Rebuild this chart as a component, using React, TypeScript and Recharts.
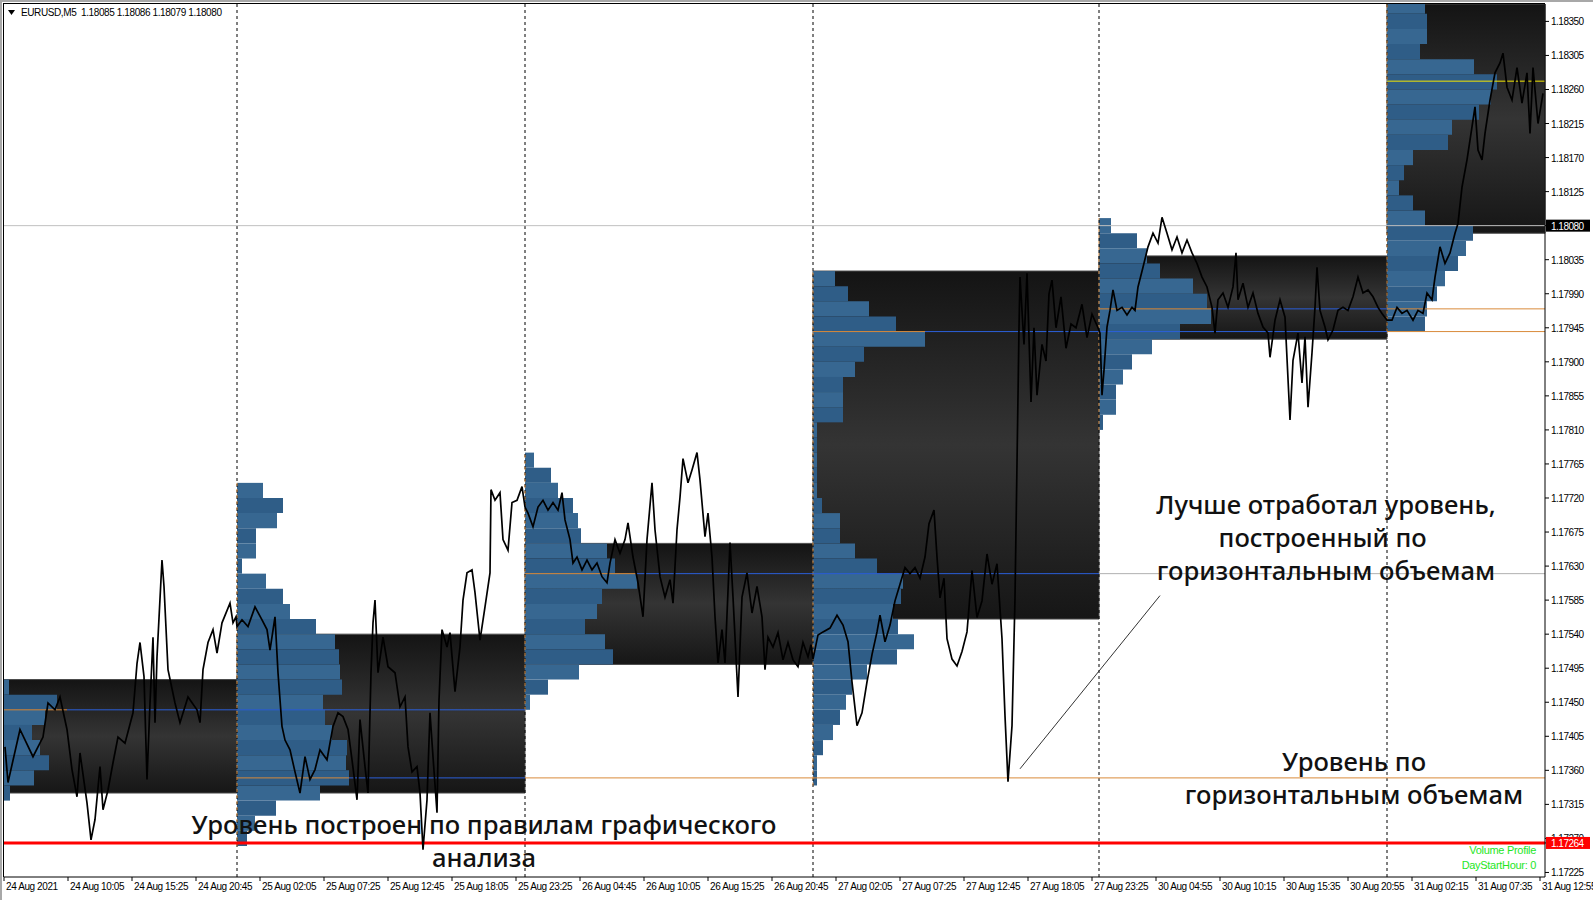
import React from "react";
import { ComposedChart, Line, XAxis, YAxis, ReferenceArea, ReferenceLine } from "recharts";

// x = M5 bar index from the left edge of the window, y = price
const timeLabels = [
  "24 Aug 2021", "24 Aug 10:05", "24 Aug 15:25", "24 Aug 20:45", "25 Aug 02:05",
  "25 Aug 07:25", "25 Aug 12:45", "25 Aug 18:05", "25 Aug 23:25", "26 Aug 04:45",
  "26 Aug 10:05", "26 Aug 15:25", "26 Aug 20:45", "27 Aug 02:05", "27 Aug 07:25",
  "27 Aug 12:45", "27 Aug 18:05", "27 Aug 23:25", "30 Aug 04:55", "30 Aug 10:15",
  "30 Aug 15:35", "30 Aug 20:55", "31 Aug 02:15", "31 Aug 07:35", "31 Aug 12:55",
];
const BARS_PER_LABEL = 64;

const priceTicks = [
  1.1835, 1.18305, 1.1826, 1.18215, 1.1817, 1.18125, 1.1808, 1.18035, 1.1799,
  1.17945, 1.179, 1.17855, 1.1781, 1.17765, 1.1772, 1.17675, 1.1763, 1.17585,
  1.1754, 1.17495, 1.1745, 1.17405, 1.1736, 1.17315, 1.1727, 1.17225,
];
const lastPrice = 1.1808;
const drawnLevel = 1.17264; // red level from chart analysis

const Y_MIN = 1.17219;
const Y_MAX = 1.18373;
const X_MAX = 1541;

// close prices, [bar, price]
const closes: [number, number][] = [
  [1, 1.17391], [4, 1.17344], [16, 1.17414], [29, 1.17378], [39, 1.17404], [44, 1.17449], [51, 1.1744], [56, 1.17457],
  [63, 1.17414], [68, 1.17361], [73, 1.17325], [76, 1.17383], [83, 1.17317], [87, 1.17268], [91, 1.17295], [96, 1.17365],
  [99, 1.17308], [104, 1.17334], [109, 1.1737], [114, 1.17404], [121, 1.17396], [129, 1.17436], [133, 1.17501], [136, 1.17529],
  [140, 1.17484], [143, 1.17348], [146, 1.17449], [149, 1.17536], [151, 1.17423], [153, 1.1751], [158, 1.17638], [160, 1.17603],
  [164, 1.17493], [171, 1.17449], [176, 1.17423], [184, 1.17457], [193, 1.1744], [196, 1.17423], [199, 1.17493], [204, 1.17529],
  [209, 1.17546], [213, 1.17515], [218, 1.17555], [226, 1.17581], [229, 1.17555], [232, 1.17563],
  [233, 1.1755], [238, 1.17559], [244, 1.1755], [251, 1.17576], [258, 1.17559], [263, 1.17546], [266, 1.17519], [271, 1.17563],
  [274, 1.17489], [278, 1.17418], [281, 1.174], [286, 1.17387], [291, 1.17358], [296, 1.1733], [301, 1.17378], [306, 1.17348],
  [311, 1.17361], [316, 1.17387], [323, 1.17374], [329, 1.17418], [334, 1.17436], [339, 1.17431], [344, 1.17414], [348, 1.17374],
  [353, 1.17321], [356, 1.17427], [361, 1.17365], [364, 1.1733], [367, 1.17489], [369, 1.17555], [371, 1.17585], [374, 1.17489],
  [379, 1.17536], [384, 1.17497], [391, 1.17489], [396, 1.17444], [401, 1.17457], [404, 1.17391], [408, 1.17358], [413, 1.17365],
  [416, 1.1733], [419, 1.17255], [423, 1.17321], [426, 1.17436], [429, 1.17378], [433, 1.17304], [435, 1.17453], [438, 1.17546],
  [443, 1.17523], [446, 1.17542], [451, 1.17464], [456, 1.17523], [459, 1.17585], [463, 1.17621], [468, 1.17625], [471, 1.17595],
  [476, 1.17532], [481, 1.17576], [486, 1.17621], [487, 1.17731], [491, 1.17717], [496, 1.17727], [499, 1.17665], [504, 1.17651],
  [508, 1.17714], [513, 1.17717], [518, 1.17735], [521, 1.17708],
  [524, 1.177], [529, 1.17682], [534, 1.17708], [539, 1.17717], [544, 1.17704], [549, 1.17714], [554, 1.17704], [558, 1.17727],
  [561, 1.17691], [566, 1.17665], [569, 1.17634], [573, 1.17642], [578, 1.17625], [583, 1.17638], [588, 1.17625], [593, 1.17634],
  [598, 1.17616], [603, 1.17608], [606, 1.17634], [611, 1.17665], [616, 1.17647], [621, 1.17665], [624, 1.17687], [629, 1.17642],
  [634, 1.17608], [639, 1.17563], [643, 1.17665], [648, 1.1774], [651, 1.17678], [656, 1.17616], [661, 1.17589], [666, 1.17612],
  [669, 1.17581], [673, 1.17678], [676, 1.17721], [679, 1.17772], [684, 1.1774], [688, 1.17757], [693, 1.1778], [696, 1.17744],
  [701, 1.17669], [704, 1.177], [708, 1.17642], [711, 1.17563], [714, 1.17502], [718, 1.17546], [721, 1.17502], [726, 1.17661],
  [729, 1.17589], [734, 1.17457], [738, 1.17589], [743, 1.17621], [748, 1.17568], [753, 1.17603], [758, 1.17563], [761, 1.17493],
  [764, 1.17536], [769, 1.17523], [774, 1.17542], [779, 1.17506], [784, 1.17529], [789, 1.17506], [794, 1.17497], [799, 1.17529],
  [804, 1.1751], [807, 1.17526],
  [809, 1.17507], [814, 1.17539], [819, 1.17543], [826, 1.17548], [833, 1.17565], [839, 1.17552], [844, 1.1753], [848, 1.17477],
  [853, 1.17419], [858, 1.17436], [863, 1.17477], [868, 1.17513], [873, 1.17543], [876, 1.17565], [881, 1.1753], [886, 1.17552],
  [891, 1.17584], [896, 1.17606], [901, 1.17628], [906, 1.1762], [911, 1.17628], [916, 1.17614], [921, 1.17642], [925, 1.17686],
  [930, 1.17704], [933, 1.17642], [936, 1.17588], [940, 1.17614], [943, 1.17534], [948, 1.17507], [953, 1.17498], [958, 1.17517],
  [963, 1.17543], [968, 1.17624], [973, 1.17562], [978, 1.17584], [983, 1.17646], [988, 1.17606], [993, 1.17633], [998, 1.17534],
  [1001, 1.17432], [1004, 1.17345], [1008, 1.17419], [1011, 1.17588], [1013, 1.17766], [1015, 1.17945], [1016, 1.18012], [1020, 1.17923],
  [1023, 1.18017], [1027, 1.17847], [1030, 1.17945], [1033, 1.17856], [1038, 1.17923], [1042, 1.17901], [1045, 1.1799], [1048, 1.18008],
  [1052, 1.17945], [1057, 1.17986], [1062, 1.17918], [1067, 1.1795], [1072, 1.17945], [1078, 1.17976], [1083, 1.17932], [1088, 1.17963],
  [1094, 1.17945],
  [1096, 1.17938], [1098, 1.17856], [1100, 1.17889], [1103, 1.17946], [1106, 1.17968], [1109, 1.17995], [1113, 1.17968], [1118, 1.17972],
  [1123, 1.17962], [1128, 1.17972], [1131, 1.17968], [1134, 1.17999], [1139, 1.18025], [1144, 1.18052], [1149, 1.1807], [1154, 1.18057],
  [1158, 1.18091], [1163, 1.1807], [1168, 1.18048], [1173, 1.18065], [1178, 1.18044], [1183, 1.18061], [1188, 1.18044], [1193, 1.1803],
  [1198, 1.18012], [1203, 1.17999], [1208, 1.17972], [1211, 1.17938], [1214, 1.17982], [1219, 1.17991], [1224, 1.17972], [1229, 1.17999],
  [1232, 1.18044], [1234, 1.17982], [1239, 1.18004], [1244, 1.17972], [1249, 1.17991], [1254, 1.17964], [1259, 1.17946], [1264, 1.17938],
  [1266, 1.17906], [1271, 1.17955], [1276, 1.17982], [1281, 1.17959], [1286, 1.17823], [1289, 1.17902], [1294, 1.17938], [1298, 1.17872],
  [1301, 1.17933], [1304, 1.1784], [1308, 1.17912], [1311, 1.17972], [1313, 1.18025], [1316, 1.17968], [1321, 1.17946], [1324, 1.17929],
  [1329, 1.17942], [1334, 1.17968], [1339, 1.17972], [1344, 1.17968], [1349, 1.17986], [1354, 1.18012], [1359, 1.17991], [1364, 1.17995],
  [1369, 1.17986], [1374, 1.17972], [1378, 1.17964], [1383, 1.17955],
  [1388, 1.17955], [1393, 1.17972], [1398, 1.17964], [1403, 1.17968], [1409, 1.17955], [1414, 1.17968], [1419, 1.17964], [1423, 1.17991],
  [1428, 1.17982], [1431, 1.18012], [1436, 1.18052], [1441, 1.1803], [1446, 1.18044], [1451, 1.1807], [1454, 1.18083], [1458, 1.18131],
  [1463, 1.18167], [1466, 1.18193], [1471, 1.18237], [1474, 1.1818], [1478, 1.18167], [1481, 1.18202], [1486, 1.18246], [1491, 1.18282],
  [1496, 1.18295], [1499, 1.18308], [1503, 1.18263], [1508, 1.18246], [1513, 1.18289], [1518, 1.18242], [1523, 1.18282], [1526, 1.18202],
  [1529, 1.18289], [1534, 1.18215], [1539, 1.18255],
];

// sessions (one per day)
const dayStart = [0, 233, 521, 809, 1095, 1383];
const dayEnd = [233, 521, 809, 1095, 1383, 1541];
const valueLow = [1.1733, 1.1733, 1.175, 1.1756, 1.1793, 1.1807];
const valueHigh = [1.1748, 1.1754, 1.1766, 1.1802, 1.1804, 1.184];

// horizontal volume profile: top price of the first bin, then volume per bin going down
const BIN = 0.0002;
const profileTop = [1.1748, 1.1774, 1.1778, 1.1802, 1.1809, 1.1838];
const profileVol = [
  [5, 53, 41, 28, 36, 45, 30, 6],
  [26, 46, 40, 19, 19, 5, 29, 46, 53, 79, 98, 102, 103, 105, 86, 88, 95, 110, 109, 112, 83, 39, 18, 10],
  [9, 26, 33, 48, 53, 56, 82, 90, 112, 77, 72, 60, 80, 88, 54, 23, 5],
  [22, 35, 56, 83, 112, 51, 42, 30, 30, 30, 4, 4, 4, 4, 4, 9, 27, 27, 42, 64, 90, 88, 80, 85, 101, 84, 54, 39, 33, 27, 20, 10, 4, 4],
  [12, 38, 48, 61, 94, 108, 112, 81, 53, 33, 24, 17, 17, 4],
  [38, 40, 40, 33, 87, 110, 104, 92, 65, 61, 26, 17, 12, 26, 38, 86, 79, 71, 58, 50, 40, 38],
];

// point of control of each finished day: profile part, naked extension, later state
const pocPrice = [1.1744, 1.1735, 1.1762, 1.1794, 1.1797];
const pocFrom = [0, 233, 521, 809, 1095];
const pocSplit = [63, 345, 633, 921, 1208];
const pocTo = [521, 521, 1095, 1383, 1383];
const pocAfter = ["", "open", "tested", "open", "open"];
const todayPoc = 1.18271;

const pointer = [
  { x: 1016, y: 1.17362 },
  { x: 1156, y: 1.17591 },
];

const data = closes.map(([i, p]) => ({ i, p }));

const ORANGE = "#d98a3a";
const BLUE = "#2b5fd9";
const axisFont = "'Liberation Sans', Arial, sans-serif";

function TimeTick({ x, y, payload }: any) {
  const k = Math.round(payload.value / BARS_PER_LABEL);
  return (
    <g>
      <line x1={x} y1={y} x2={x} y2={y + 4} stroke="#000" />
      <text x={x + 2} y={y + 13} fontSize={10} fontFamily={axisFont} letterSpacing={-0.4} fill="#000">
        {timeLabels[k]}
      </text>
    </g>
  );
}

function PriceTick({ x, y, payload }: any) {
  const v = payload.value;
  const tag = v === lastPrice ? "#000" : v === drawnLevel ? "#ff0000" : null;
  return (
    <g>
      <line x1={x} y1={y} x2={x + 4} y2={y} stroke="#000" />
      {tag && <rect x={x + 1} y={y - 6} width={44} height={12} fill={tag} />}
      <text x={x + 6} y={y + 4} fontSize={10} fontFamily={axisFont} letterSpacing={-0.5} fill={tag ? "#fff" : "#000"}>
        {v.toFixed(5)}
      </text>
    </g>
  );
}

const note: React.CSSProperties = {
  position: "absolute",
  width: 640,
  textAlign: "center",
  fontFamily: "'Noto Sans', sans-serif",
  fontSize: 25.6,
  fontWeight: 500,
  lineHeight: "33px",
  color: "#111",
  whiteSpace: "pre",
  pointerEvents: "none",
};

export default function App() {
  return (
    <div style={{ position: "relative", width: 1593, height: 900, background: "#fff", overflow: "hidden" }}>
      <style>{"body{margin:0}"}</style>
      <ComposedChart width={1593} height={900} data={data} margin={{ top: 4, right: 0, bottom: 0, left: 4 }}>
        <defs>
          <linearGradient id="vaGrad" x1="0" y1="0" x2="0" y2="1">
            <stop offset="0%" stopColor="#141414" />
            <stop offset="50%" stopColor="#343434" />
            <stop offset="100%" stopColor="#161616" />
          </linearGradient>
        </defs>
        <XAxis
          type="number"
          dataKey="i"
          domain={[0, X_MAX]}
          allowDataOverflow
          ticks={timeLabels.map((_, k) => k * BARS_PER_LABEL)}
          interval={0}
          height={23}
          tickSize={0}
          tickMargin={0}
          tickLine={false}
          axisLine={{ stroke: "#000" }}
          tick={TimeTick}
        />
        <YAxis
          type="number"
          orientation="right"
          domain={[Y_MIN, Y_MAX]}
          allowDataOverflow
          ticks={[...priceTicks, drawnLevel]}
          interval={0}
          width={48}
          tickSize={0}
          tickMargin={0}
          tickLine={false}
          axisLine={{ stroke: "#000" }}
          tick={PriceTick}
        />

        {dayStart.map((s, d) => (
          <ReferenceArea
            key={`va${d}`}
            x1={s}
            x2={dayEnd[d]}
            y1={valueLow[d]}
            y2={Math.min(valueHigh[d], Y_MAX)}
            fill="url(#vaGrad)"
            fillOpacity={1}
            stroke="#4a4a4a"
            strokeWidth={1}
          />
        ))}

        {profileVol.map((vols, d) =>
          vols.map((v, k) => (
            <ReferenceArea
              key={`pf${d}-${k}`}
              x1={dayStart[d]}
              x2={dayStart[d] + v}
              y1={profileTop[d] - (k + 1) * BIN}
              y2={Math.min(profileTop[d] - k * BIN, Y_MAX)}
              fill={k % 2 ? "#2f5d87" : "#376791"}
              fillOpacity={1}
              stroke="none"
            />
          ))
        )}

        {dayStart.slice(1).map((s) => (
          <ReferenceLine key={`sep${s}`} x={s} stroke="#000" strokeDasharray="3 3" />
        ))}
        {dayStart.slice(1).map((s, j) => {
          const d = j + 1;
          const bottom = profileTop[d] - profileVol[d].length * BIN;
          return (
            <ReferenceLine
              key={`pe${s}`}
              segment={[{ x: s, y: bottom }, { x: s, y: Math.min(profileTop[d], Y_MAX) }]}
              stroke={ORANGE}
              strokeDasharray="3 3"
            />
          );
        })}

        <ReferenceLine y={lastPrice} stroke="#c0c0c0" />

        {pocPrice.map((p, j) => (
          <ReferenceLine key={`pa${j}`} segment={[{ x: pocFrom[j], y: p }, { x: pocSplit[j], y: p }]} stroke={ORANGE} />
        ))}
        {pocPrice.map((p, j) => (
          <ReferenceLine key={`pb${j}`} segment={[{ x: pocSplit[j], y: p }, { x: pocTo[j], y: p }]} stroke={BLUE} />
        ))}
        {pocPrice.map((p, j) =>
          pocAfter[j] ? (
            <ReferenceLine
              key={`pc${j}`}
              segment={[{ x: pocTo[j], y: p }, { x: X_MAX, y: p }]}
              stroke={pocAfter[j] === "open" ? ORANGE : "#b0b0b0"}
            />
          ) : null
        )}
        <ReferenceLine segment={[{ x: dayStart[5], y: todayPoc }, { x: X_MAX, y: todayPoc }]} stroke="#f2e600" />

        <ReferenceLine y={drawnLevel} stroke="#ff0000" strokeWidth={3} />
        <ReferenceLine segment={pointer} stroke="#333" strokeWidth={1} />

        <Line
          type="linear"
          dataKey="p"
          stroke="#000"
          strokeWidth={1.7}
          dot={false}
          isAnimationActive={false}
        />
      </ComposedChart>

      {/* window frame */}
      <div style={{ position: "absolute", left: 0, top: 0, width: 1593, height: 2, background: "#a8a8a8" }} />
      <div style={{ position: "absolute", left: 0, top: 0, width: 2, height: 900, background: "#a8a8a8" }} />
      <div style={{ position: "absolute", left: 3, top: 3, width: 1542, height: 874, borderLeft: "1px solid #000", borderTop: "1px solid #000", boxSizing: "border-box", pointerEvents: "none" }} />

      <div style={{ position: "absolute", left: 8, top: 7, fontFamily: axisFont, fontSize: 10, letterSpacing: -0.4, color: "#000", whiteSpace: "pre", display: "flex", alignItems: "center", gap: 6 }}>
        <svg width={7} height={5}><polygon points="0,0 7,0 3.5,5" fill="#000" /></svg>
        <span>EURUSD,M5  1.18085 1.18086 1.18079 1.18080</span>
      </div>

      <div style={{ position: "absolute", right: 1593 - 1536, top: 843, textAlign: "right", fontFamily: axisFont, fontSize: 11, letterSpacing: -0.3, lineHeight: "15px", color: "#1ee61e", whiteSpace: "pre" }}>
        {"Volume Profile\nDayStartHour: 0"}
      </div>

      <div style={{ ...note, left: 1326 - 320, top: 488 }}>{"Лучше отработал уровень,\nпостроенный по\u00a0\nгоризонтальным объемам"}</div>
      <div style={{ ...note, left: 1354 - 320, top: 745 }}>{"Уровень по\nгоризонтальным объемам"}</div>
      <div style={{ ...note, left: 484 - 320, top: 808 }}>{"Уровень построен по правилам графического\nанализа"}</div>
    </div>
  );
}
